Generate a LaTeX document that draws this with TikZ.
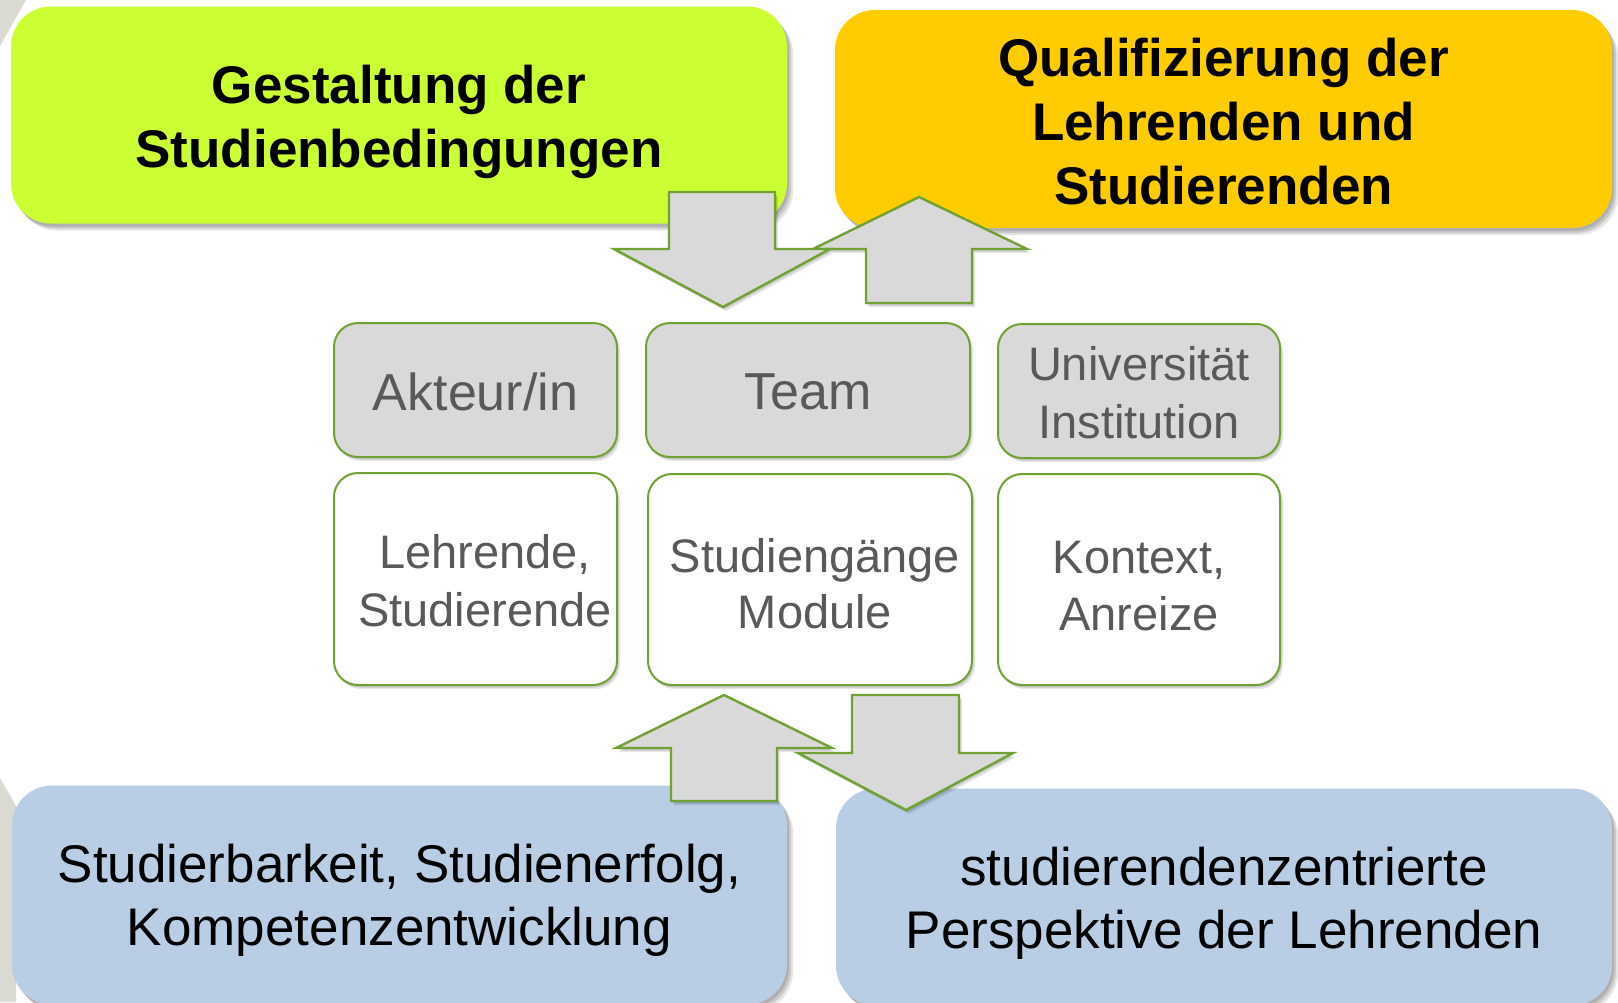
\documentclass[tikz,border=0pt]{standalone}
\usepackage{fontspec}
\setmainfont{Liberation Sans}
\usetikzlibrary{shadows}
\definecolor{cgreen}{HTML}{CCFF33}
\definecolor{corange}{HTML}{FFCC00}
\definecolor{cblue}{HTML}{B9CDE5}
\definecolor{cgrey}{HTML}{D9D9D9}
\definecolor{ctext}{HTML}{595959}
\definecolor{cborder}{HTML}{6FA232}
\definecolor{cbg}{HTML}{DAD9D2}
\begin{document}
\begin{tikzpicture}[x=1pt,y=-1pt,
  softshadow/.style={
    drop shadow={shadow xshift=2pt,shadow yshift=-3pt,opacity=0.12,fill=black},
    drop shadow={shadow xshift=4pt,shadow yshift=-5pt,opacity=0.12,fill=black},
    drop shadow={shadow xshift=6pt,shadow yshift=-7pt,opacity=0.1,fill=black}},
  smallshadow/.style={
    drop shadow={shadow xshift=1.5pt,shadow yshift=-2.5pt,opacity=0.12,fill=black},
    drop shadow={shadow xshift=3pt,shadow yshift=-4pt,opacity=0.1,fill=black}},
  bigbox/.style={draw=none,rounded corners=40pt,inner sep=0pt,softshadow},
  bigbold/.style={inner sep=0pt,align=center,font=\fontsize{53}{64}\selectfont\bfseries},
  bigreg/.style={inner sep=0pt,align=center,font=\fontsize{53}{63}\selectfont},
  midbox/.style={draw=cborder,line width=2pt,rounded corners=24pt,inner sep=0pt,smallshadow},
  headbox/.style={midbox,fill=cgrey},
  lowbox/.style={midbox,fill=white},
  midtext/.style={inner sep=0pt,align=center,text=ctext},
  blockarr/.style={draw=cborder,line width=2.4pt,fill=cgrey,line join=miter,smallshadow},
  bgshape/.style={fill=cbg,draw=none}]
\fill[white] (0,0) rectangle (1618,1002);
\useasboundingbox (0,0) rectangle (1618,1002);
% background shapes
\fill[bgshape] (0,0) -- (26,0) -- (0,46) -- cycle;
\fill[bgshape] (0,778) -- (16,806) -- (16,1002) -- (0,1002) -- cycle;
% big boxes
\node[bigbox,fill=cgreen,minimum width=776pt,minimum height=217pt] (gest) at (399,115) {};
\node[bigbold] (gestt) at (399,122) {Gestaltung der\\Studienbedingungen};
\node[bigbox,fill=corange,minimum width=777pt,minimum height=218pt] (qual) at (1223.5,119) {};
\node[bigbold] (qualt) at (1223.5,122) {Qualifizierung der\\Lehrenden und\\Studierenden};
\node[bigbox,fill=cblue,minimum width=775pt,minimum height=219pt] (stud) at (399.5,895) {};
\node[bigreg] (studt) at (399.5,900) {Studierbarkeit, Studienerfolg,\\Kompetenzentwicklung};
\node[bigbox,fill=cblue,minimum width=776pt,minimum height=217pt] (pers) at (1224,897) {};
\node[bigreg] (perst) at (1224,903) {studierendenzentrierte\\Perspektive der Lehrenden};
% middle boxes
\node[headbox,minimum width=283pt,minimum height=134pt] (akt) at (475.5,390) {};
\node[midtext,font=\fontsize{52}{60}\selectfont] (aktt) at (475.5,392) {Akteur/in};
\node[headbox,minimum width=324pt,minimum height=134pt] (team) at (808,390) {};
\node[midtext,font=\fontsize{52}{60}\selectfont] (teamt) at (808,392) {Team};
\node[headbox,minimum width=282pt,minimum height=134pt] (uni) at (1139,391) {};
\node[midtext,font=\fontsize{47}{58}\selectfont] (unit) at (1139,393) {Universität\\Institution};
\node[lowbox,minimum width=283pt,minimum height=212pt] (lehr) at (475.5,579) {};
\node[midtext,font=\fontsize{47}{58}\selectfont] (lehrt) at (485,581) {Lehrende,\\Studierende};
\node[lowbox,minimum width=324pt,minimum height=211pt] (sgm) at (810,579.5) {};
\node[midtext,font=\fontsize{47}{56}\selectfont] (sgmt) at (815,584) {Studiengänge\\Module};
\node[lowbox,minimum width=282pt,minimum height=211pt] (kont) at (1139,579.5) {};
\node[midtext,font=\fontsize{47}{57}\selectfont] (kontt) at (1139,586) {Kontext,\\Anreize};
% block arrows
\draw[blockarr] (919,197) -- (1027,249) -- (972,249) -- (972,303) -- (866,303) -- (866,249) -- (813,249) -- cycle;
\draw[blockarr] (669,192) -- (775,192) -- (775,249) -- (830,249) -- (723,307) -- (614,249) -- (669,249) -- cycle;
\draw[blockarr] (724,695) -- (832,748) -- (777,748) -- (777,801) -- (671,801) -- (671,748) -- (616,748) -- cycle;
\draw[blockarr] (852,695) -- (959,695) -- (959,753) -- (1013,753) -- (906,810) -- (798,753) -- (852,753) -- cycle;
\end{tikzpicture}
\end{document}
